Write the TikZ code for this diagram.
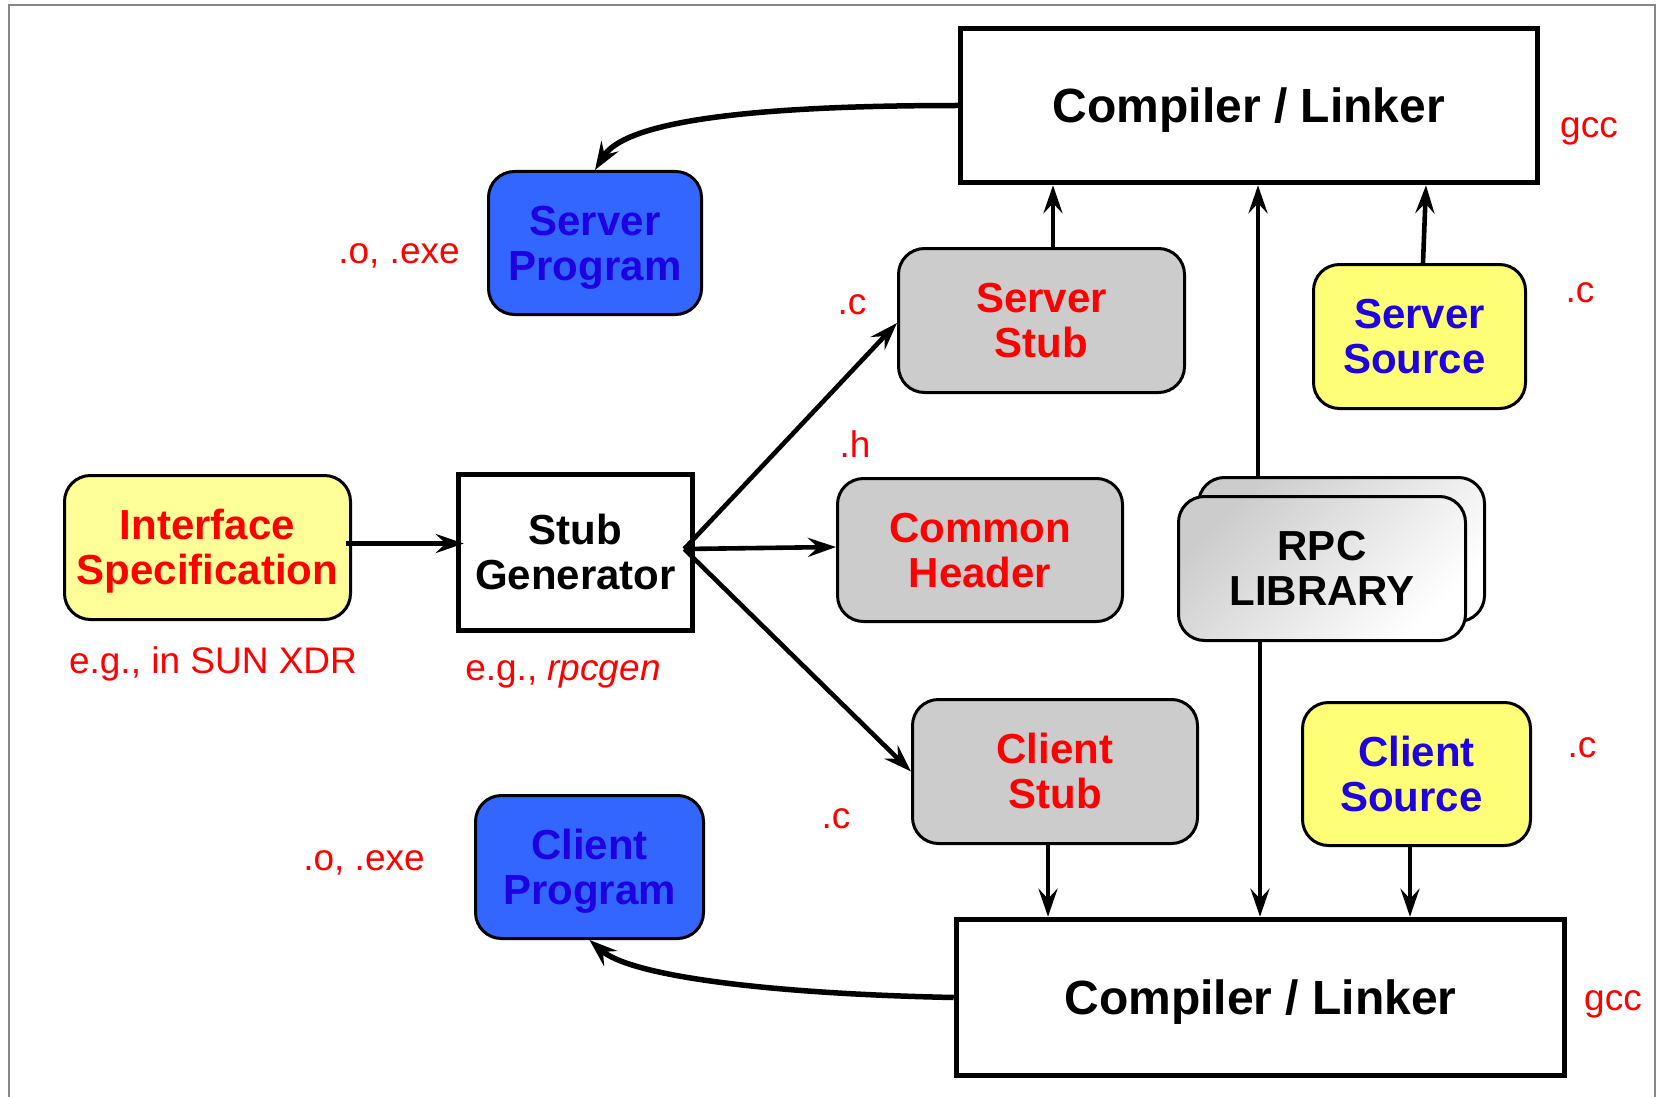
\documentclass[tikz,border=0pt]{standalone}
\usepackage{fontspec}
\setmainfont{Liberation Sans}
\usetikzlibrary{arrows.meta,calc}
\definecolor{myred}{RGB}{255,0,0}
\definecolor{myblue}{RGB}{30,0,225}
\definecolor{boxblue}{RGB}{51,102,255}
\definecolor{yel}{RGB}{255,255,119}
\definecolor{paleyel}{RGB}{255,255,153}
\definecolor{boxgray}{RGB}{204,204,204}
\definecolor{framegray}{RGB}{136,136,136}
\newcommand\tst{\rule{0pt}{0.905em}}
\newcommand\bst{\rule[-0.212em]{0pt}{0pt}}
\begin{document}
\begin{tikzpicture}[x=1pt,y=-1pt,
  rbox/.style={draw=black, line width=3pt, rounded corners=26pt, inner sep=0pt,
    align=center, font=\fontsize{42}{45}\selectfont\bfseries},
  sqbox/.style={draw=black, line width=5.5pt, inner sep=0pt, align=center},
  note/.style={text=myred, font=\fontsize{37}{40}\selectfont, inner sep=0pt, anchor=base},
  arr/.style={line width=4.6pt, -{Stealth[length=28pt,width=19pt,inset=10pt]}},
  carr/.style={line width=5.5pt, -{Stealth[length=28pt,width=20pt,inset=10pt]}}]
\useasboundingbox (0,0) rectangle (1658,1097);
% frame
\draw[framegray, line width=2pt] (9,1097) -- (9,5) -- (1655,5) -- (1655,1097);

% compilers
\node[sqbox, minimum width=577pt, minimum height=154pt,
  font=\fontsize{48}{52}\selectfont\bfseries] (ctop) at (1249,105.5) {\tst\bst Compiler / Linker};
\node[sqbox, minimum width=608pt, minimum height=156pt,
  font=\fontsize{48}{52}\selectfont\bfseries] (cbot) at (1260.5,997.5) {\tst\bst Compiler / Linker};

% boxes
\node[rbox, fill=boxblue, text=myblue, minimum width=213pt, minimum height=143pt] (sprog) at (595,243) {\tst Server\\Program\bst};
\node[rbox, fill=boxblue, text=myblue, minimum width=228pt, minimum height=143pt] (cprog) at (589.5,867) {\tst Client\\Program\bst};
\node[rbox, fill=boxgray, text=myred, minimum width=286pt, minimum height=144pt] (sstub) at (1041.5,320.5) {\tst Server\\Stub\bst};
\node[rbox, fill=boxgray, text=myred, minimum width=285pt, minimum height=143pt] (chead) at (980,550) {\tst Common\\Header\bst};
\node[rbox, fill=boxgray, text=myred, minimum width=285pt, minimum height=144pt] (cstub) at (1055,771.5) {\tst Client\\Stub\bst};
\node[rbox, fill=yel, text=myblue, minimum width=212pt, minimum height=144pt] (ssrc) at (1419.5,336.5) {\tst Server\\Source\bst\kern10pt};
\node[rbox, fill=yel, text=myblue, minimum width=228pt, minimum height=143pt] (csrc) at (1416.5,774) {\tst Client\\Source\bst\kern10pt};
\node[rbox, fill=paleyel, text=myred, minimum width=286pt, minimum height=144pt] (iface) at (207.5,547.5) {\tst Interface\\Specification\bst};
\node[sqbox, minimum width=234pt, minimum height=156pt,
  font=\fontsize{42}{45}\selectfont\bfseries] (sgen) at (575.5,552.5) {\tst Stub\\Generator\bst};
\node[rbox, top color=boxgray, middle color=white, bottom color=white, shading angle=45,
  minimum width=286pt, minimum height=144pt] (rpcback) at (1341.5,549.5) {};
\node[rbox, top color=boxgray, middle color=white, bottom color=white, shading angle=45,
  minimum width=287pt, minimum height=144pt] (rpcfront) at (1322,568.5) {\tst RPC\\LIBRARY\bst};

% labels
\node[note] (l1) at (399,263) {.o, .exe};
\node[note] (l2) at (364,870) {.o, .exe};
\node[note] (l3) at (1589,138) {gcc};
\node[note] (l4) at (1613,1010) {gcc};
\node[note] (l5) at (852,314) {.c};
\node[note] (l6) at (855,457) {.h};
\node[note] (l7) at (1580,302) {.c};
\node[note] (l8) at (1582,757) {.c};
\node[note] (l9) at (836,828) {.c};
\node[note] (l10) at (213,673) {e.g., in SUN XDR};
\node[note] (l11) at (563,680) {e.g., \itshape rpcgen};

% arrows
\draw[arr, shorten >=-8pt] ([xshift=-6pt,yshift=4pt]iface.east) -- ([yshift=4pt]iface.east -| sgen.west);
\coordinate (fork) at ([xshift=-11pt,yshift=3.5pt]sgen.east);
\draw[arr] (fork) -- ([yshift=-2.5pt]sstub.west);
\draw[arr] (fork) -- ([yshift=3pt]chead.west);
\draw[arr] (fork) -- (cstub.west);

\draw[arr] ([xshift=11.5pt]sstub.north) -- ([xshift=11.5pt]sstub.north |- ctop.south);
\draw[arr] ([xshift=-83.5pt]rpcback.north) -- ([xshift=-83.5pt]rpcback.north |- ctop.south);
\draw[arr] ([xshift=3.5pt]ssrc.north) -- ([xshift=177pt]ctop.south);

\draw[arr] ([xshift=-7pt]cstub.south) -- ([xshift=-7pt]cstub.south |- cbot.north);
\draw[arr] ([xshift=-62pt]rpcfront.south) -- ([xshift=-62pt]rpcfront.south |- cbot.north);
\draw[arr] ([xshift=-6.5pt]csrc.south) -- ([xshift=-6.5pt]csrc.south |- cbot.north);

\draw[carr] (ctop.west) .. controls +(-258,0) and +(25,-40) .. (sprog.north);
\draw[carr] (cbot.west) .. controls +(-194,-4) and +(40,35) .. (cprog.south);
\end{tikzpicture}
\end{document}
